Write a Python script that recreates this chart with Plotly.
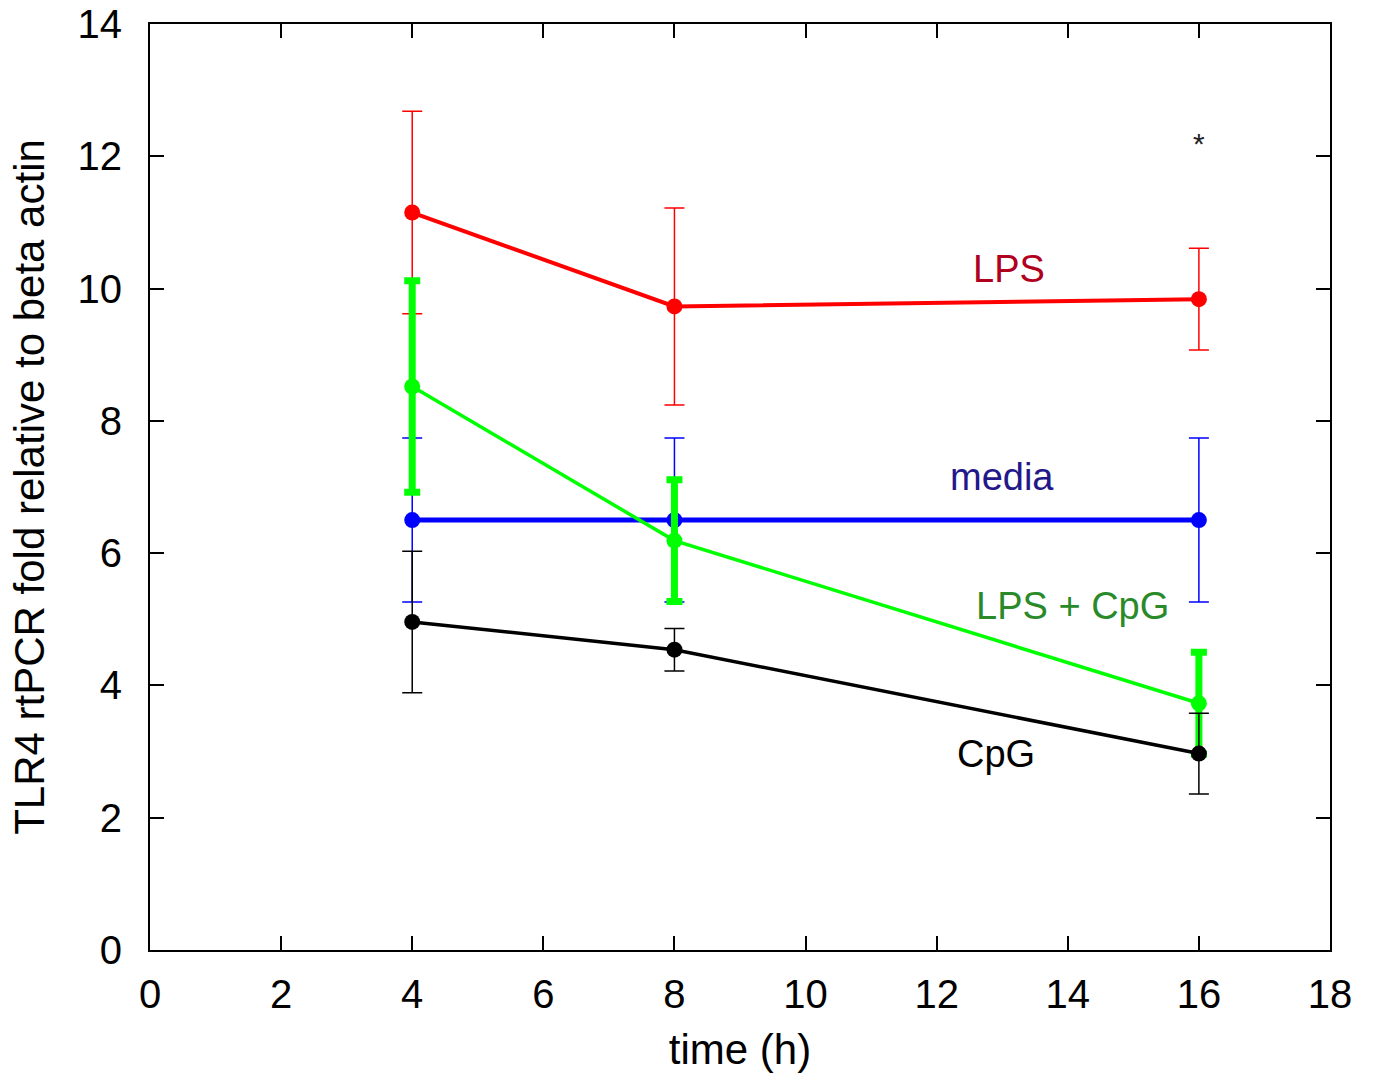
import plotly.graph_objects as go

# Time points (h)
time_h = [4, 8, 16]

# TLR4 rtPCR fold relative to beta actin, mean and error per condition
lps_mean = [11.15, 9.73, 9.84]
lps_err = [1.53, 1.49, 0.77]

media_mean = [6.50, 6.50, 6.50]
media_err = [1.24, 1.24, 1.24]

lps_cpg_mean = [8.52, 6.19, 3.73]
lps_cpg_err = [1.60, 0.92, 0.77]

cpg_mean = [4.96, 4.54, 2.97]
cpg_err = [1.07, 0.32, 0.61]

x_ticks = [0, 2, 4, 6, 8, 10, 12, 14, 16, 18]
y_ticks = [0, 2, 4, 6, 8, 10, 12, 14]

FONT = "Liberation Sans, Arial, sans-serif"

series = [
    # name, means, errors, line colour, line width, error width, cap width, label colour, label position
    ("LPS", lps_mean, lps_err, "#ff0000", 4, 1.5, 10, "#b0001e", (13.1, 10.3)),
    ("media", media_mean, media_err, "#0000ff", 5, 1.5, 10, "#23188a", (13.0, 7.15)),
    ("LPS + CpG", lps_cpg_mean, lps_cpg_err, "#00ff00", 3.5, 7, 8, "#2a8a2a", (14.07, 5.2)),
    ("CpG", cpg_mean, cpg_err, "#000000", 3.5, 1.5, 10, "#000000", (12.9, 2.97)),
]

fig = go.Figure()
for name, m, e, col, lw, ew, cw, lc, pos in series:
    fig.add_trace(go.Scatter(
        x=time_h, y=m, mode="lines+markers", name=name,
        line=dict(color=col, width=lw),
        marker=dict(color=col, size=16),
        error_y=dict(type="data", array=e, visible=True, color=col,
                     thickness=ew, width=cw),
        showlegend=False,
    ))

annotations = []
for name, m, e, col, lw, ew, cw, lc, pos in series:
    annotations.append(dict(
        x=pos[0], y=pos[1], text=name, showarrow=False,
        xref="x", yref="y",
        font=dict(family=FONT, size=38, color=lc),
    ))
annotations.append(dict(
    x=16, y=12.2, text="*", showarrow=False, xref="x", yref="y",
    font=dict(family=FONT, size=30, color="#222222"),
))

axis_common = dict(
    showline=True, linecolor="black", linewidth=2, mirror="ticks",
    ticks="inside", ticklen=14, tickwidth=2, tickcolor="black",
    showgrid=False, zeroline=False, ticklabeloverflow="allow",
    automargin=False,
    tickfont=dict(family=FONT, size=40, color="black"),
)

fig.update_layout(
    width=1373, height=1081,
    margin=dict(l=150, r=43, t=24, b=131),
    paper_bgcolor="white", plot_bgcolor="white",
    xaxis=dict(range=[0, 18], tickvals=x_ticks, ticklabelstandoff=8,
               title=dict(text="time (h)", font=dict(family=FONT, size=42, color="black"), standoff=20),
               **axis_common),
    yaxis=dict(range=[0, 14.0001], tickvals=y_ticks, ticklabelstandoff=18,
               title=dict(text="TLR4 rtPCR fold relative to beta actin",
                          font=dict(family=FONT, size=42, color="black"), standoff=20),
               **axis_common),
    annotations=annotations,
)

fig.write_html("out.html")
